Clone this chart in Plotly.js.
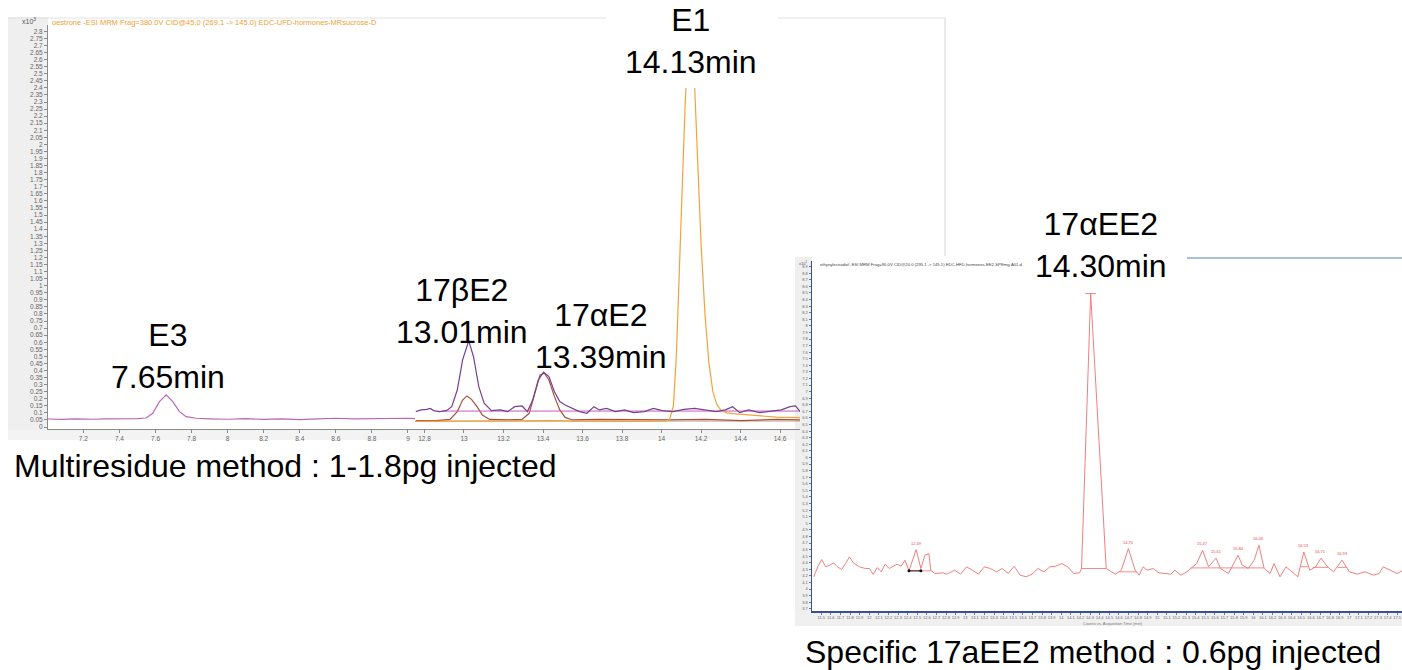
<!DOCTYPE html>
<html><head><meta charset="utf-8">
<script src="https://cdn.plot.ly/plotly-3.0.1.min.js"></script>
<style>html,body{margin:0;padding:0;background:#fff;overflow:hidden}#chart{width:1402px;height:670px}</style>
</head><body><div id="chart"></div>
<script>
// ---------- DATA ----------
// Multiresidue method, first window (E3)
const e3Time   = [7.0,7.08,7.16,7.25,7.33,7.42,7.5,7.548,7.585,7.622,7.659,7.696,7.733,7.77,7.826,7.9,8.0,8.1,8.2,8.3,8.4,8.5,8.6,8.7,8.8,8.9,9.0,9.039];
const e3Signal = [0.057,0.054,0.058,0.055,0.058,0.056,0.059,0.064,0.097,0.18,0.227,0.18,0.109,0.073,0.062,0.058,0.055,0.059,0.054,0.057,0.053,0.058,0.062,0.058,0.061,0.059,0.062,0.06];

// second window: purple trace (17bE2 / 17aE2)
const purpleTime   = [12.756,12.783,12.811,12.829,12.847,12.874,12.911,12.938,12.966,12.993,13.024,13.048,13.075,13.102,13.139,13.184,13.221,13.257,13.294,13.321,13.348,13.376,13.403,13.43,13.458,13.485,13.512,13.549,13.585,13.622,13.658,13.685,13.722,13.767,13.813,13.858,13.913,13.959,14.004,14.059,14.113,14.168,14.223,14.277,14.323,14.36,14.396,14.441,14.496,14.551,14.606,14.651,14.678,14.706];
const purpleSignal = [0.109,0.121,0.125,0.132,0.116,0.109,0.116,0.144,0.262,0.475,0.61,0.499,0.286,0.168,0.116,0.121,0.109,0.144,0.149,0.109,0.191,0.333,0.388,0.357,0.25,0.18,0.156,0.132,0.109,0.097,0.144,0.121,0.132,0.109,0.121,0.102,0.109,0.132,0.116,0.109,0.125,0.132,0.121,0.109,0.121,0.144,0.102,0.121,0.102,0.109,0.121,0.144,0.149,0.102];

// second window: brown trace
const brownTime   = [12.756,12.856,12.929,12.966,12.993,13.015,13.038,13.066,13.093,13.13,13.221,13.294,13.33,13.357,13.385,13.407,13.43,13.458,13.485,13.512,13.549,13.676,13.858,14.041,14.223,14.405,14.587,14.706];
const brownSignal = [0.045,0.045,0.054,0.109,0.191,0.22,0.196,0.144,0.085,0.054,0.05,0.054,0.097,0.239,0.369,0.381,0.333,0.215,0.121,0.068,0.05,0.054,0.05,0.05,0.054,0.045,0.054,0.05];

// second window: orange trace (E1)
const orangeTime   = [12.752,12.85,12.95,13.05,13.15,13.25,13.35,13.45,13.55,13.65,13.75,13.85,13.95,14.02,14.04,14.06,14.075,14.09,14.105,14.12,14.135,14.15,14.165,14.18,14.2,14.22,14.24,14.26,14.28,14.3,14.33,14.36,14.4,14.44,14.48,14.52,14.58,14.64,14.706];
const orangeSignal = [0.04,0.041,0.04,0.042,0.04,0.041,0.043,0.045,0.042,0.04,0.041,0.04,0.042,0.044,0.05,0.15,0.5,1.1,1.7,2.3,2.7,2.75,2.5,2.0,1.3,0.8,0.45,0.25,0.16,0.12,0.1,0.095,0.09,0.085,0.08,0.075,0.07,0.068,0.066];

// integration baselines in the second window
const purpleBaseTime   = [12.89,14.706];
const purpleBaseSignal = [0.113,0.113];
const tanBaseTime      = [12.756,14.706];
const tanBaseSignal    = [0.042,0.042];

// Specific 17aEE2 method trace
const ee2Time   = [11.422,11.464,11.505,11.546,11.588,11.629,11.670,11.712,11.753,11.794,11.835,11.898,11.960,12.001,12.042,12.084,12.125,12.166,12.208,12.249,12.290,12.332,12.373,12.414,12.489,12.538,12.580,12.621,12.642,12.683,12.766,12.807,12.848,12.890,12.952,13.014,13.076,13.138,13.200,13.262,13.324,13.386,13.448,13.510,13.572,13.634,13.696,13.758,13.820,13.882,13.944,14.006,14.068,14.130,14.192,14.212,14.307,14.469,14.522,14.564,14.626,14.700,14.770,14.812,14.853,14.894,14.956,15.018,15.080,15.142,15.184,15.246,15.308,15.370,15.411,15.473,15.535,15.613,15.659,15.742,15.842,15.886,15.948,16.010,16.060,16.114,16.176,16.217,16.279,16.341,16.403,16.465,16.527,16.589,16.651,16.706,16.775,16.837,16.925,17.002,17.085,17.168,17.250,17.312,17.354,17.437,17.499,17.552];
const ee2Signal = [4.187,4.338,4.449,4.338,4.363,4.398,4.338,4.297,4.388,4.489,4.398,4.338,4.313,4.313,4.222,4.328,4.262,4.378,4.313,4.348,4.378,4.348,4.439,4.277,4.600,4.313,4.514,4.539,4.287,4.237,4.247,4.227,4.262,4.287,4.227,4.338,4.287,4.227,4.338,4.313,4.262,4.313,4.237,4.348,4.212,4.187,4.227,4.313,4.262,4.338,4.348,4.388,4.338,4.237,4.247,4.313,8.49,4.313,4.262,4.227,4.287,4.615,4.287,4.212,4.338,4.287,4.313,4.247,4.237,4.227,4.287,4.212,4.262,4.338,4.388,4.590,4.338,4.470,4.313,4.237,4.515,4.363,4.313,4.439,4.665,4.313,4.237,4.388,4.187,4.338,4.262,4.187,4.564,4.287,4.338,4.470,4.338,4.262,4.440,4.262,4.227,4.262,4.212,4.237,4.338,4.287,4.237,4.277];
const ee2IntTime   = [12.414,12.642,null,14.212,14.469,null,14.605,14.791,null,15.349,16.114,null,16.49,16.57,null,16.62,16.78,null,16.88,16.98];
const ee2IntSignal = [4.277,4.277,null,4.313,4.313,null,4.262,4.262,null,4.322,4.322,null,4.34,4.34,null,4.33,4.33,null,4.33,4.33];
const ee2MarkTime   = [12.414,12.538];
const ee2MarkSignal = [4.277,4.277];
const ee2CapTime    = [14.25,14.36];
const ee2CapSignal  = [8.49,8.49];
const smallPeakTime = [12.489,14.700,15.473,15.613,15.842,16.060,16.527,16.706,16.925];
const smallPeakTop  = [4.600,4.615,4.590,4.470,4.515,4.665,4.564,4.470,4.440];
const smallPeakText = ['12.49','14.70','15.47','15.61','15.84','16.06','16.53','16.71','16.93'];

// text
const compoundNames    = ['E3','17βE2','17αE2','E1','17αEE2'];
const retentionLabels  = ['7.65min','13.01min','13.39min','14.13min','14.30min'];
const captions         = ['Multiresidue method : 1-1.8pg injected','Specific 17aEE2 method : 0.6pg injected'];
const leftTitle  = 'oestrone -ESI MRM Frag=380.0V CID@45.0 (269.1 -> 145.0) EDC-UFD-hormones-MRsucrose-D';
const rightTitle = 'ethynylestradiol -ESI MRM Frag=90.0V CID@20.0 (295.1 -> 145.1) EDC-HFD-hormones-EE2-SPEmg-A01.d';
const leftExp = 'x10<sup>3</sup>';
const rightExp = 'x10<sup>1</sup>';
const rightXTitle = 'Counts vs. Acquisition Time (min)';

// ---------- LAYOUT HELPERS ----------
const W = 1402, H = 670;
const px = v => v / W;
const py = v => 1 - v / H;
const FONT = 'Liberation Sans, Arial, Helvetica, sans-serif';

const line = (x, y, xa, ya, color, width) => ({type:'scatter', mode:'lines', x, y, xaxis:xa, yaxis:ya,
  line:{color, width, shape:'linear'}, hoverinfo:'skip', showlegend:false, connectgaps:false});

const traces = [
  line(e3Time, e3Signal, 'x', 'y', '#b868b4', 1.2),
  line(tanBaseTime, tanBaseSignal, 'x2', 'y', '#c9a88c', 1),
  line(brownTime, brownSignal, 'x2', 'y', '#a8503c', 1.2),
  line(purpleBaseTime, purpleBaseSignal, 'x2', 'y', '#c45cc0', 1),
  line(orangeTime, orangeSignal, 'x2', 'y', '#f2a23a', 1.2),
  line(purpleTime, purpleSignal, 'x2', 'y', '#7a3e90', 1.2),
  line(ee2IntTime, ee2IntSignal, 'x3', 'y3', '#f08c8c', 1),
  line(ee2Time, ee2Signal, 'x3', 'y3', '#f07f7f', 1),
  line(ee2CapTime, ee2CapSignal, 'x3', 'y3', '#f07f7f', 1),
  {type:'scatter', mode:'lines+markers', x:ee2MarkTime, y:ee2MarkSignal, xaxis:'x3', yaxis:'y3',
   line:{color:'#222', width:1}, marker:{color:'#111', size:3}, hoverinfo:'skip', showlegend:false}
];

const leftAxisStyle = {showline:true, linecolor:'#8a8a8a', linewidth:1, ticks:'outside', ticklen:3,
  tickcolor:'#8a8a8a', tickfont:{family:FONT, size:6.5, color:'#666'}, showgrid:false, zeroline:false,
  tickangle:0, fixedrange:true};
const rightAxisStyle = {showline:true, linecolor:'#3a4f9a', linewidth:1.5, ticks:'outside', ticklen:2,
  tickcolor:'#6a7ab0', tickfont:{family:FONT, size:4, color:'#666'}, showgrid:false, zeroline:false,
  tickangle:0, fixedrange:true};

const bigFont = {family:FONT, size:32, color:'#000'};
const ann = (text, x, y, xanchor) => ({text, xref:'paper', yref:'paper', x, y, xanchor:xanchor||'center',
  yanchor:'middle', showarrow:false, font:bigFont, align:'center'});

const annotations = [
  ann(compoundNames[0] + '<br>' + retentionLabels[0], px(168), py(356)),
  ann(compoundNames[1] + '<br>' + retentionLabels[1], px(462), py(311)),
  ann(compoundNames[2] + '<br>' + retentionLabels[2], px(601), py(336)),
  ann(compoundNames[3] + '<br>' + retentionLabels[3], px(691), py(41)),
  ann(compoundNames[4] + '<br>' + retentionLabels[4], px(1101), py(245)),
  ann(captions[0], px(12), py(466), 'left'),
  ann(captions[1], px(803), py(652), 'left'),
  {text:leftTitle, xref:'paper', yref:'paper', x:px(50), y:py(22), xanchor:'left', yanchor:'middle',
   showarrow:false, font:{family:FONT, size:7.5, color:'#f0a030'}},
  {text:leftExp, xref:'paper', yref:'paper', x:px(20), y:py(21), xanchor:'left', yanchor:'middle',
   showarrow:false, font:{family:FONT, size:7, color:'#555'}},
  {text:rightTitle, xref:'paper', yref:'paper', x:px(818), y:py(264), xanchor:'left', yanchor:'middle',
   showarrow:false, font:{family:FONT, size:4.2, color:'#444'}},
  {text:rightExp, xref:'paper', yref:'paper', x:px(797), y:py(263), xanchor:'left', yanchor:'middle',
   showarrow:false, font:{family:FONT, size:4, color:'#555'}},
  {text:rightXTitle, xref:'paper', yref:'paper', x:px(1113), y:py(623), xanchor:'center', yanchor:'middle',
   showarrow:false, font:{family:FONT, size:4, color:'#777'}}
];
smallPeakTime.forEach((t, i) => annotations.push({text:smallPeakText[i], xref:'x3', yref:'y3', x:t, y:smallPeakTop[i],
  xanchor:'center', yanchor:'bottom', yshift:2, showarrow:false, font:{family:FONT, size:4, color:'#e24a4a'}}));

const shapes = [
  {type:'rect', xref:'paper', yref:'paper', x0:px(8), x1:px(48), y0:py(440), y1:py(17), fillcolor:'#efefef', line:{width:0}, layer:'below'},
  {type:'rect', xref:'paper', yref:'paper', x0:px(8), x1:px(800), y0:py(440), y1:py(430), fillcolor:'#f3f3f3', line:{width:0}, layer:'below'},
  {type:'line', xref:'paper', yref:'paper', x0:px(8), x1:px(945), y0:py(18), y1:py(18), line:{color:'#e2e2e2', width:1}, layer:'below'},
  {type:'line', xref:'paper', yref:'paper', x0:px(945), x1:px(945), y0:py(18), y1:py(256), line:{color:'#d6d6d6', width:1}, layer:'below'},
  {type:'rect', xref:'paper', yref:'paper', x0:px(795), x1:px(812), y0:py(626), y1:py(257), fillcolor:'#efefef', line:{width:0}, layer:'below'},
  {type:'rect', xref:'paper', yref:'paper', x0:px(795), x1:1, y0:py(626), y1:py(612), fillcolor:'#f0f0f0', line:{width:0}, layer:'below'},
  {type:'line', xref:'paper', yref:'paper', x0:px(1187), x1:1, y0:py(258), y1:py(258), line:{color:'#4f81bd', width:1}, layer:'below'},
  {type:'rect', xref:'paper', yref:'paper', x0:px(606), x1:px(778), y0:py(88), y1:1, fillcolor:'#ffffff', line:{width:0}, layer:'above'}
];

const layout = {
  width:W, height:H, autosize:false, margin:{l:0, r:0, t:0, b:0},
  paper_bgcolor:'#ffffff', plot_bgcolor:'rgba(0,0,0,0)', showlegend:false,
  font:{family:FONT},
  xaxis:  Object.assign({}, leftAxisStyle, {domain:[px(48), px(415)], range:[7.004, 9.039], anchor:'y', dtick:0.2, tick0:0}),
  xaxis2: Object.assign({}, leftAxisStyle, {domain:[px(415), px(800)], range:[12.752, 14.701], anchor:'y', dtick:0.2, tick0:0}),
  yaxis:  Object.assign({}, leftAxisStyle, {domain:[py(429), py(25)], range:[-0.014, 2.845], anchor:'x', dtick:0.05, tick0:0}),
  xaxis3: Object.assign({}, rightAxisStyle, {domain:[px(812), 1], range:[11.404, 17.55], anchor:'y3', dtick:0.1, tick0:0}),
  yaxis3: Object.assign({}, rightAxisStyle, {domain:[py(611), py(260.7)], range:[3.667, 8.99], anchor:'x3', dtick:0.1, tick0:0}),
  annotations, shapes
};

Plotly.newPlot('chart', traces, layout, {staticPlot:true, displayModeBar:false});
</script></body></html>
